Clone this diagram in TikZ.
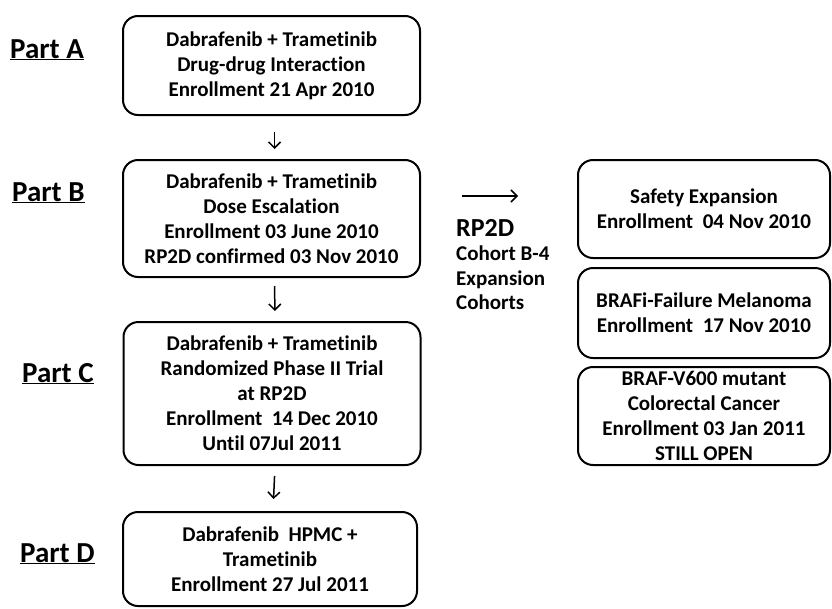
\documentclass[tikz,border=0pt]{standalone}
\usepackage{fontspec}
\setmainfont{Carlito}[Ligatures={NoCommon}]
\usetikzlibrary{arrows.meta}
\begin{document}
\begin{tikzpicture}[x=1pt,y=-1pt,
  every node/.style={font=\bfseries, text=black},
  box/.style={draw=black, line width=2pt, rounded corners=15pt, align=center,
    inner sep=0pt, font=\bfseries\fontsize{21}{25}\selectfont},
  part/.style={anchor=base west, inner sep=0pt, font=\bfseries\fontsize{29}{32}\selectfont},
  arr/.style={line width=1.5pt, -{Straight Barb[length=6pt,width=12pt]}},
  side/.style={anchor=west, inner sep=0pt, align=left, font=\bfseries\fontsize{21}{24.5}\selectfont}]
\useasboundingbox (0,0) rectangle (832,608);

% stage labels
\node[part] (pa) at (10,58) {\underline{Part A}};
\node[part] (pb) at (12,201) {\underline{Part B}};
\node[part] (pc) at (22,382) {\underline{Part C}};
\node[part] (pd) at (20,562) {\underline{Part D}};

% main sequence
\node[box, minimum width=297pt, minimum height=99pt] (A) at (271.5,65.5)
  {Dabrafenib + Trametinib\\Drug-drug Interaction\\Enrollment 21 Apr 2010};
\node[box, minimum width=297pt, minimum height=117pt] (B) at (271.5,218.5)
  {Dabrafenib + Trametinib\\Dose Escalation\\Enrollment 03 June 2010\\RP2D confirmed 03 Nov 2010};
\node[box, minimum width=297pt, minimum height=143pt] (C) at (272,393.5)
  {Dabrafenib + Trametinib\\Randomized Phase II Trial\\at RP2D\\Enrollment\ \ 14 Dec 2010\\Until 07Jul 2011};
\node[box, minimum width=294pt, minimum height=94pt] (D) at (270,559)
  {Dabrafenib\ \ HPMC +\\Trametinib\\Enrollment 27 Jul 2011};

\draw[arr, shorten <=16pt, shorten >=10pt] ([xshift=3pt]A.south) -- ([xshift=3pt]B.north);
\draw[arr, shorten <=8pt, shorten >=10pt] ([xshift=3pt]B.south) -- ([xshift=3pt]C.north);
\draw[arr, shorten <=10pt, shorten >=12pt] ([xshift=3pt]C.south) -- ([xshift=3pt]D.north);

% expansion cohorts
\node[box, minimum width=252pt, minimum height=98pt] (S) at (704,209)
  {Safety Expansion\\Enrollment\ \ 04 Nov 2010};
\node[box, minimum width=252pt, minimum height=90pt] (M) at (704,313)
  {BRAFi-Failure Melanoma\\Enrollment\ \ 17 Nov 2010};
\node[box, minimum width=252pt, minimum height=98pt] (K) at (704,416)
  {BRAF-V600 mutant\\Colorectal Cancer\\Enrollment 03 Jan 2011\\STILL OPEN};

\coordinate (r1) at (462,196);
\coordinate (r2) at (518,196);
\draw[arr] (r1) -- (r2);
\node[side, font=\bfseries\fontsize{26}{26}\selectfont] (rp) at (456,228) {RP2D};
\node[side, anchor=north west] (co) at (456,246) {Cohort B-4\\Expansion\\Cohorts};
\end{tikzpicture}
\end{document}
